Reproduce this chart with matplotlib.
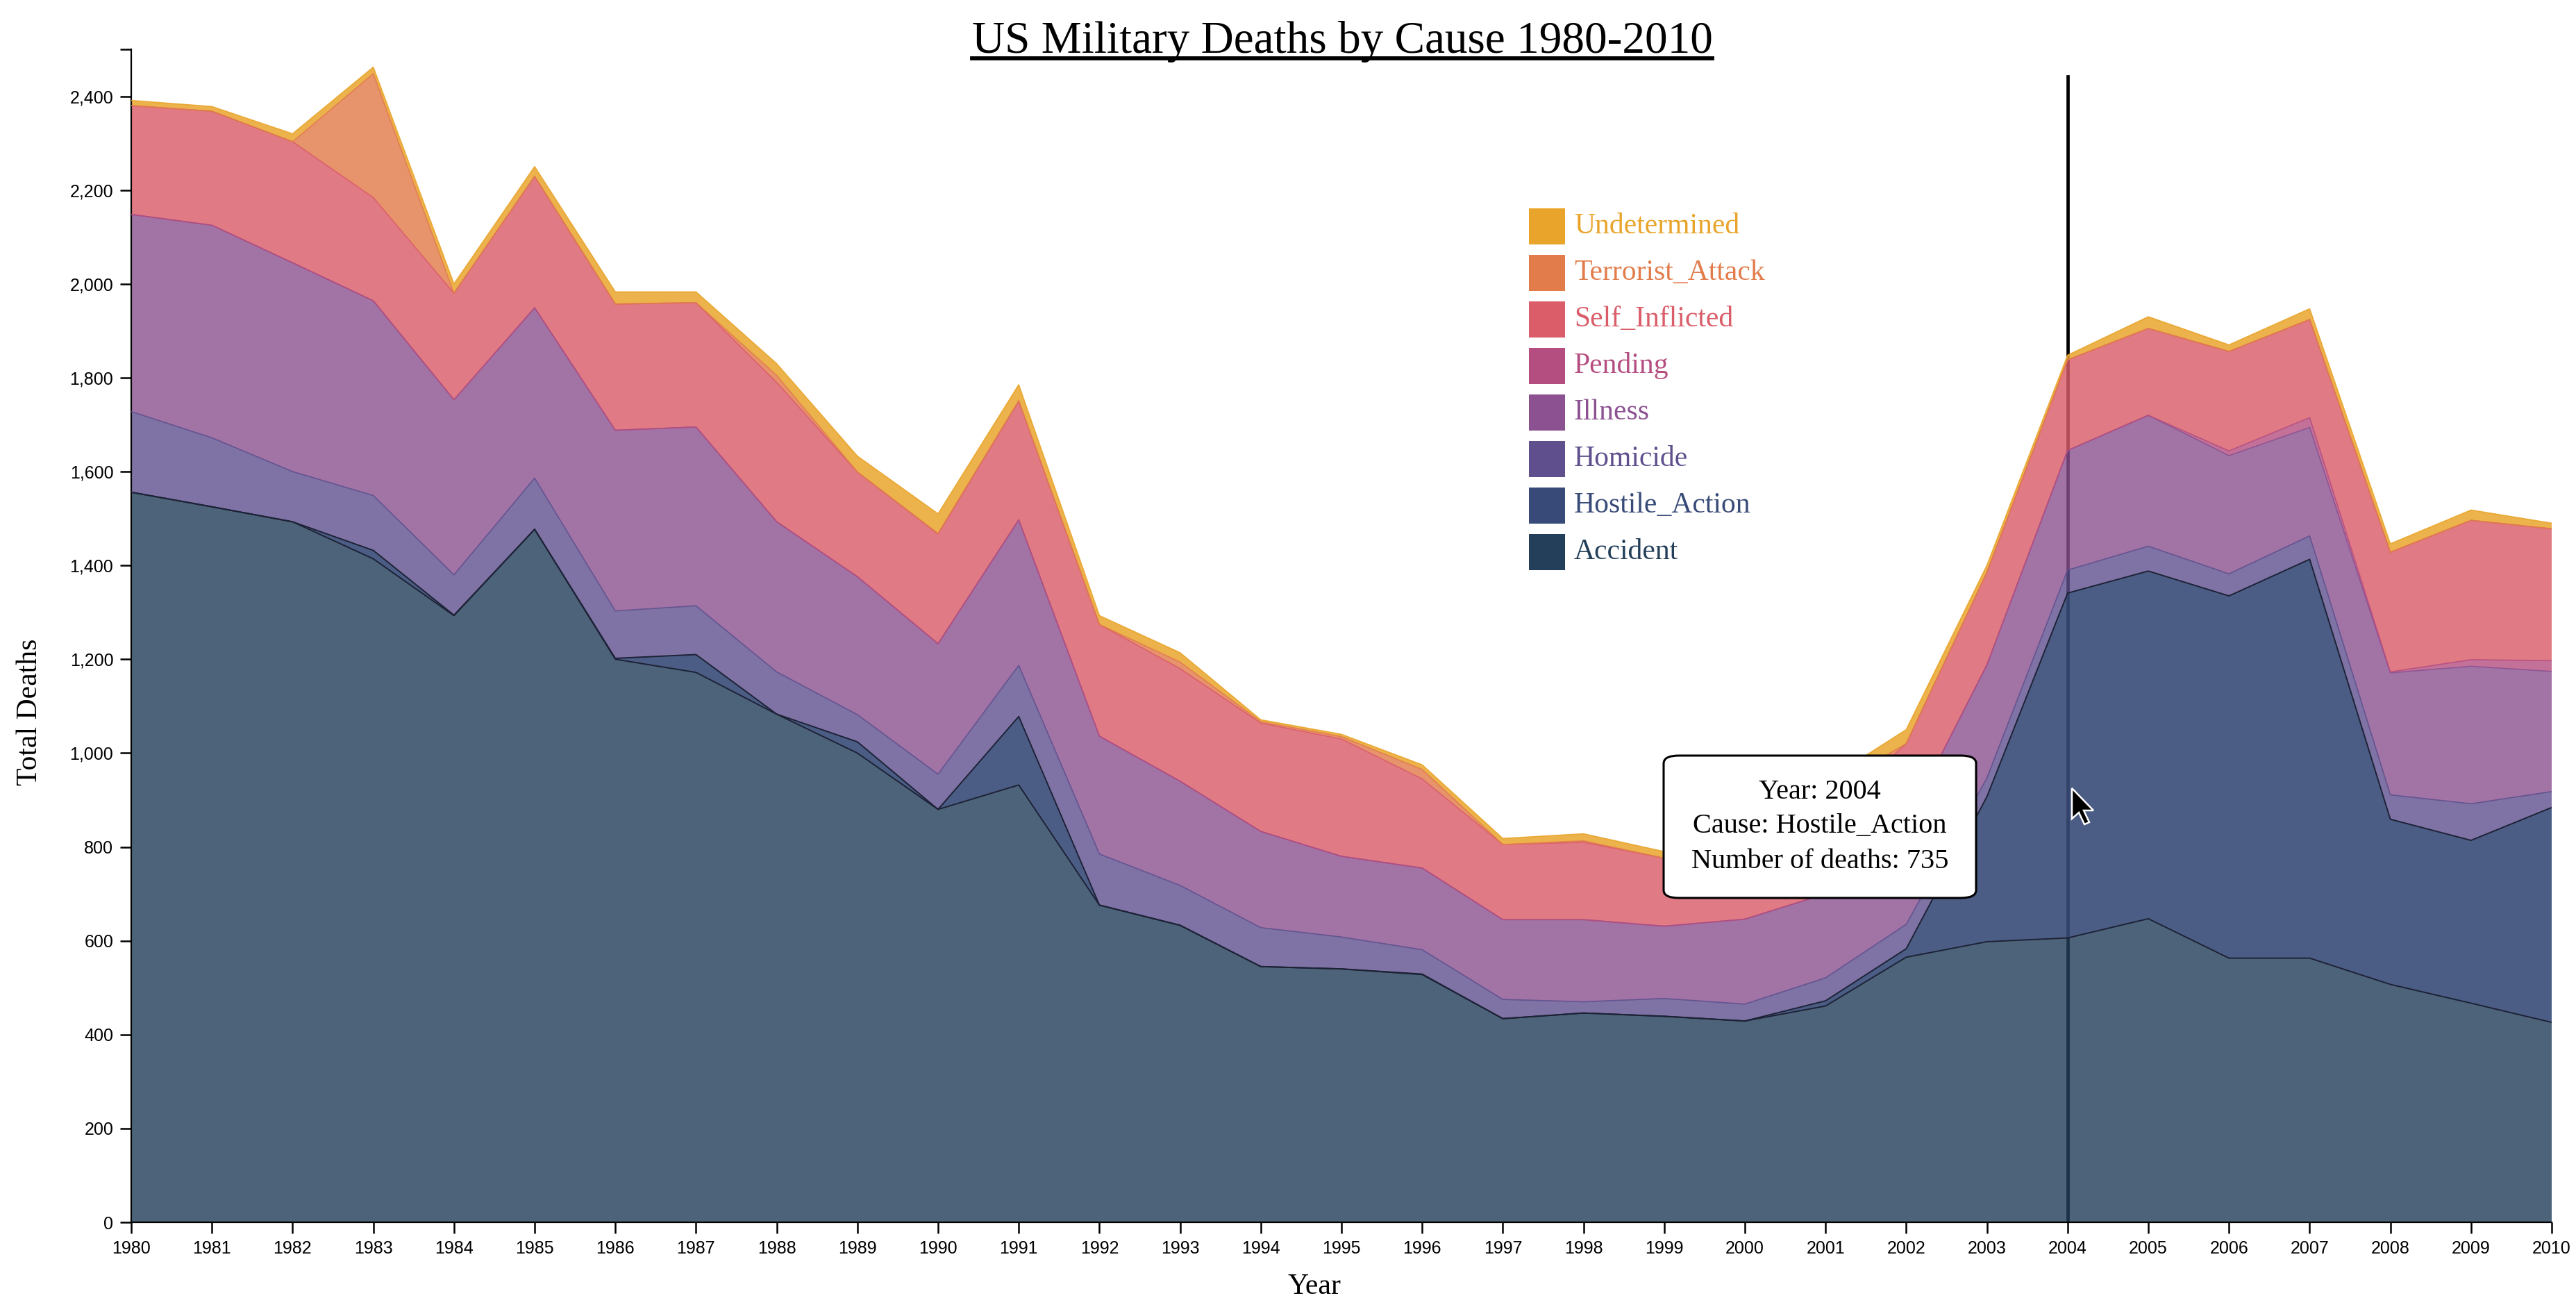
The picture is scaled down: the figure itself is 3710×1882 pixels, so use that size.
import numpy as np
import matplotlib.pyplot as plt
from matplotlib.patches import Rectangle, FancyBboxPatch, Polygon
from matplotlib.lines import Line2D

years = np.arange(1980, 2011)

accident = [1556, 1525, 1493, 1414, 1293, 1477, 1200, 1172, 1083, 1000, 880, 932, 676, 633, 545, 540,
            528, 434, 446, 439, 429, 461, 565, 598, 606, 647, 563, 563, 507, 467, 426]
hostile = [0, 0, 0, 18, 1, 0, 2, 38, 0, 24, 0, 146, 0, 0, 0, 0,
           1, 0, 0, 0, 0, 11, 18, 309, 735, 741, 772, 850, 352, 347, 458]
homicide = [172, 147, 107, 117, 86, 109, 101, 104, 90, 58, 75, 109, 109, 85, 83, 68,
            52, 41, 24, 38, 36, 49, 52, 40, 49, 53, 47, 50, 52, 78, 34]
illness = [420, 453, 445, 415, 373, 363, 385, 381, 320, 294, 278, 310, 251, 222, 205, 172,
           174, 170, 175, 154, 181, 179, 215, 241, 255, 279, 252, 231, 260, 293, 256]
pending = [0, 0, 0, 0, 0, 0, 0, 0, 0, 0, 0, 0, 0, 0, 0, 0,
           0, 0, 0, 0, 0, 0, 0, 0, 0, 0, 10, 21, 2, 14, 23]
self_inflicted = [232, 243, 258, 220, 227, 280, 269, 265, 297, 223, 234, 253, 238, 240, 231, 250,
                  190, 160, 165, 145, 150, 165, 170, 197, 193, 185, 212, 209, 255, 297, 281]
terrorist = [0, 0, 0, 264, 0, 0, 0, 0, 15, 0, 1, 1, 0, 14, 3, 5,
             20, 0, 3, 0, 17, 55, 0, 0, 0, 0, 0, 0, 0, 0, 0]
undetermined = [11, 10, 17, 14, 20, 21, 26, 23, 25, 34, 42, 34, 19, 20, 4, 5,
                10, 13, 15, 14, 10, 20, 30, 15, 10, 25, 14, 23, 18, 22, 12]

causes = ["Accident", "Hostile_Action", "Homicide", "Illness", "Pending",
          "Self_Inflicted", "Terrorist_Attack", "Undetermined"]
colors = ["#233F5A", "#384B78", "#5F4F8D", "#8B5190", "#B54E80",
          "#DA5D69", "#E27C4B", "#E9A52B"]

series = np.array([accident, hostile, homicide, illness, pending,
                   self_inflicted, terrorist, undetermined], dtype=float)
tops = np.cumsum(series, axis=0)

W, H = 3710, 1882
fig = plt.figure(figsize=(W / 100, H / 100), dpi=100)
ax = fig.add_axes([189 / W, 1 - 1760 / H, (3675 - 189) / W, (1760 - 71) / H])

serif = ["Liberation Serif", "DejaVu Serif"]
sans = ["Liberation Sans", "DejaVu Sans"]

# ligne verticale du survol (sous les aires translucides)
ax.plot([2004, 2004], [0, 2442], color="black", lw=3.4, zorder=1)

alphas = [0.81, 0.9, 0.8, 0.8, 0.8, 0.82, 0.82, 0.85]
bottom = np.zeros(len(years))
for k in range(len(causes)):
    ax.fill_between(years, bottom, tops[k], facecolor=colors[k], alpha=alphas[k], lw=0, zorder=2)
    bottom = tops[k]

for k in range(len(causes)):
    if k < 2:
        ax.plot(years, tops[k], color="#1d2236", lw=1.4, zorder=3)
    else:
        ax.plot(years, tops[k], color=colors[k], lw=1.2, alpha=0.9, zorder=3)

ax.set_xlim(1980, 2010)
ax.set_ylim(0, 2500)
ax.set_xticks(years)
ax.set_xticklabels([str(y) for y in years], fontfamily=sans, fontsize=18)
yt = np.arange(0, 2401, 200)
ax.set_yticks(yt)
ax.set_yticklabels(["{:,}".format(v) for v in yt], fontfamily=sans, fontsize=18)
ax.set_yticks([2500], minor=True)
ax.tick_params(axis="both", which="both", length=11.5, width=1.8, pad=7, color="black")
for s in ["top", "right"]:
    ax.spines[s].set_visible(False)
for s in ["left", "bottom"]:
    ax.spines[s].set_linewidth(1.6)
ax.patch.set_alpha(0)

# titre souligné
title = fig.text(1933 / W, 1 - 76 / H, "US Military Deaths by Cause 1980-2010",
                 ha="center", va="baseline", fontfamily=serif, fontsize=47)
fig.canvas.draw()
bb = title.get_window_extent()
uy = 1 - 84 / H
fig.add_artist(Line2D([bb.x0 / W, bb.x1 / W], [uy, uy], color="black", lw=4.2))

fig.text(1893 / W, 1 - 1853 / H, "Year", ha="center", va="center", fontfamily=serif, fontsize=30)
fig.text(43 / W, 1 - 1025 / H, "Total Deaths", ha="center", va="center", rotation=90,
         fontfamily=serif, fontsize=30)

# légende
for i, k in enumerate(range(len(causes) - 1, -1, -1)):
    yc = 326 + i * 67
    fig.add_artist(Rectangle((2202 / W, 1 - (yc + 26) / H), 52 / W, 52 / H,
                             facecolor=colors[k], edgecolor="none"))
    fig.text(2267 / W, 1 - yc / H, causes[k], ha="left", va="center",
             fontfamily=serif, fontsize=30, color=colors[k])

# infobulle
fig.add_artist(FancyBboxPatch((2396 / W, 1 - 1293 / H), 450 / W, 205 / H,
                              boxstyle="round,pad=0,rounding_size=0.006",
                              facecolor="white", edgecolor="black", lw=2.2,
                              transform=fig.transFigure, zorder=5))
lines = ["Year: 2004", "Cause: Hostile_Action", "Number of deaths: 735"]
for i, t in enumerate(lines):
    fig.text(2621 / W, 1 - (1140 + i * 50) / H, t, ha="center", va="center",
             fontfamily=serif, fontsize=29, zorder=6)

# curseur
cx, cy = 2984, 1135
pts = [(0, 0), (0, 44), (10, 35), (18, 52), (25, 49), (17, 32), (31, 32)]
fig.add_artist(Polygon([((cx + px) / W, 1 - (cy + py) / H) for px, py in pts],
                       closed=True, facecolor="black", edgecolor="white", lw=1.8,
                       transform=fig.transFigure, zorder=7))

fig.savefig("out.png", dpi=100)
